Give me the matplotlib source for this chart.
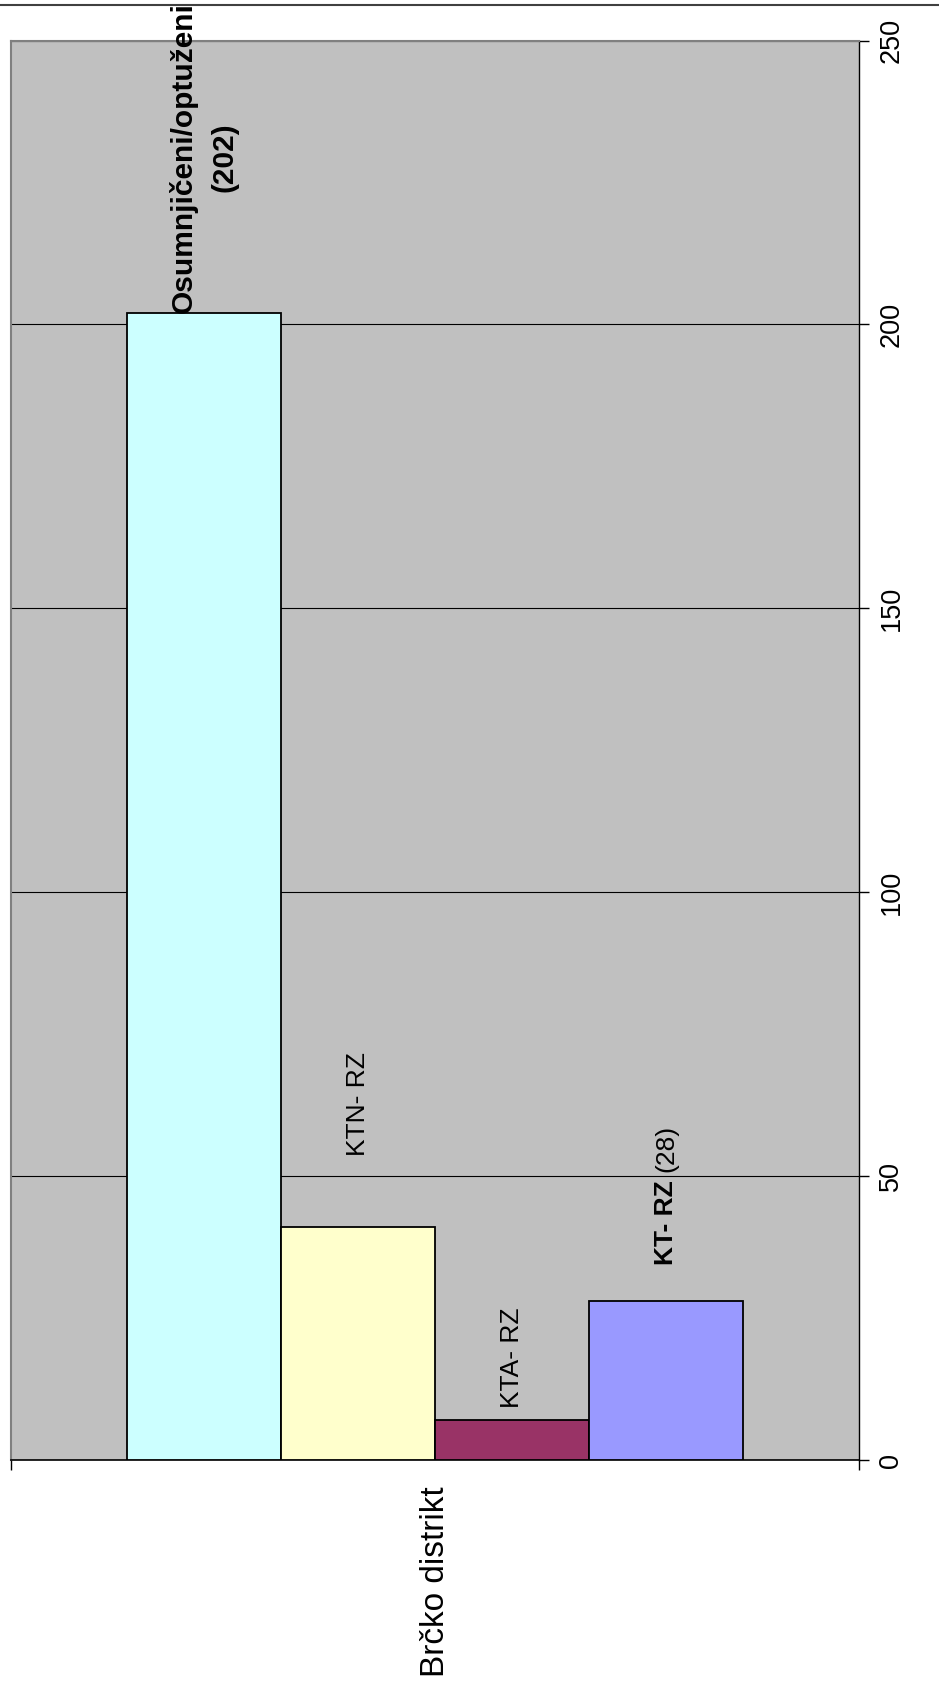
import numpy as np
import matplotlib
matplotlib.use('Agg')
import matplotlib.pyplot as plt
from matplotlib.lines import Line2D

plt.rcParams['font.family'] = ['Liberation Sans', 'DejaVu Sans']

# data
category = 'Brčko distrikt'
series = ['Osumnjičeni/optuženi', 'KTN- RZ', 'KTA- RZ', 'KT- RZ']
values = [202, 41, 7, 28]
colors = ['#CCFFFF', '#FFFFCC', '#993366', '#9999FF']
yticks = [0, 50, 100, 150, 200, 250]

# bar labels as they appear in the chart
label_texts = ['Osumnjičeni/optuženi\n(202)', 'KTN- RZ', 'KTA- RZ', 'KT- RZ']
label_bold = [True, False, False, True]
label_gap = [0, 51, 8.6, 26]   # points above the bar top
label_size = [21.5, 19, 19, 19]
extra_text = '(28)'            # appended to last label in normal weight

fig = plt.figure(figsize=(9.39, 16.98), dpi=100)
ax = fig.add_axes([11 / 939, 1 - 1460 / 1698, 848 / 939, 1419.5 / 1698])
ax.set_facecolor('#C0C0C0')

n = len(values)
w = 1 / (n + 1.5)
xs = (np.arange(n) - (n - 1) / 2) * w
ax.bar(xs, values, width=w, color=colors, edgecolor='black', linewidth=1.3, zorder=3)

ax.set_xlim(-0.5, 0.5)
ax.set_ylim(0, 250)

# value axis on the right, labels rotated
ax.set_yticks(yticks)
ax.yaxis.tick_right()
ax.tick_params(axis='y', direction='out', length=7, width=1, pad=7,
               labelsize=19.5, labelrotation=90)
for lab in ax.get_yticklabels():
    lab.set_va('center')
ax.grid(axis='y', color='black', lw=0.8)
ax.set_axisbelow(True)

# category axis
ax.set_xticks([0])
ax.set_xticklabels([category], rotation=90, fontsize=24, va='top')
ax.tick_params(axis='x', which='major', length=0, pad=19)
ax.set_xticks([-0.5, 0.5], minor=True)
ax.tick_params(axis='x', which='minor', length=7, width=1, direction='out')

for s in ['left', 'top']:
    ax.spines[s].set_color('#808080')
    ax.spines[s].set_linewidth(1.5)
ax.spines['right'].set_color('black')
ax.spines['right'].set_linewidth(1)
ax.spines['bottom'].set_color('black')
ax.spines['bottom'].set_linewidth(1.2)

# bar labels
last = None
for x, v, t, b, g, fs in zip(xs, values, label_texts, label_bold, label_gap, label_size):
    last = ax.annotate(t, xy=(x, v), xytext=(0, g), textcoords='offset points',
                       rotation=90, ha='center', va='bottom', multialignment='center',
                       fontsize=fs, fontweight='bold' if b else 'normal',
                       linespacing=1.55, annotation_clip=False, zorder=5)
ax.annotate(extra_text, xy=(0.5, 1), xycoords=last, xytext=(0, 6),
            textcoords='offset points', rotation=90, ha='center', va='bottom',
            fontsize=19, zorder=5)

# line across the top of the page
fig.add_artist(Line2D([0, 1], [1 - 5 / 1698] * 2, transform=fig.transFigure,
                      color='#404040', lw=1.5))

fig.savefig('out.png', dpi=100)
